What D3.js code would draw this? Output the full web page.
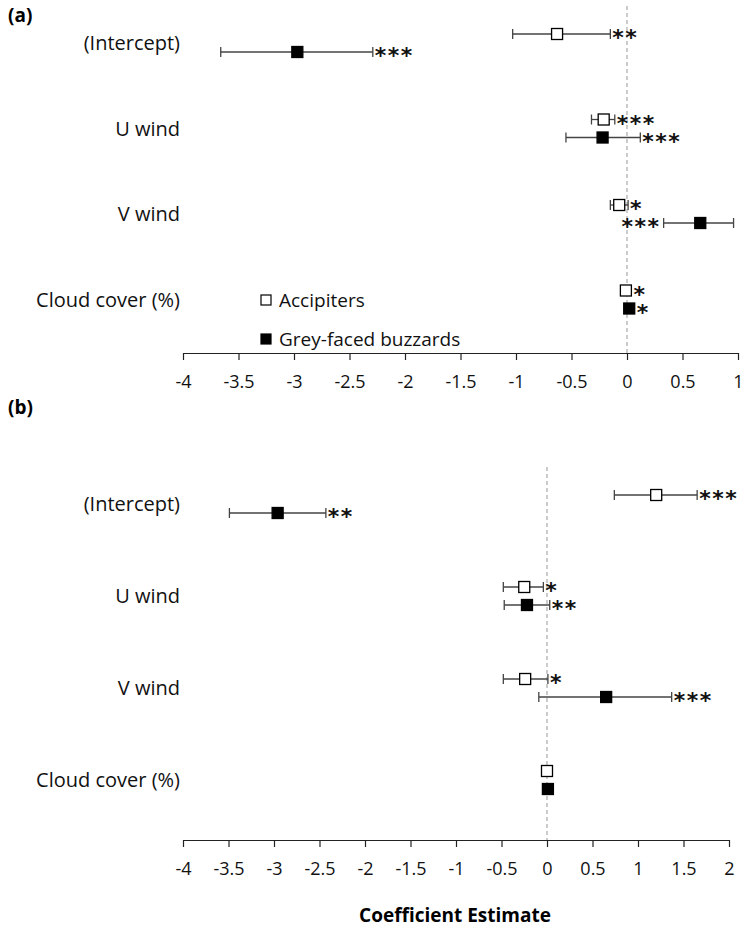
<!DOCTYPE html>
<html><head><meta charset="utf-8">
<script src="https://cdn.jsdelivr.net/npm/d3@7"></script>
<style>body{margin:0;background:#fff}</style>
</head><body>
<svg id="chart" width="746" height="932"></svg>
<script>
const categories = ["(Intercept)", "U wind", "V wind", "Cloud cover (%)"];
const series = ["Accipiters", "Grey-faced buzzards"];

// panel (a)
const aAccEst = [-0.63, -0.21, -0.07, -0.01];
const aAccLo = [-1.03, -0.32, -0.15, -0.01];
const aAccHi = [-0.15, -0.11, 0.01, -0.01];
const aAccSig = ["**", "***", "*", "*"];
const aGfbEst = [-2.97, -0.22, 0.66, 0.02];
const aGfbLo = [-3.66, -0.55, 0.33, 0.02];
const aGfbHi = [-2.29, 0.12, 0.96, 0.02];
const aGfbSig = ["***", "***", "***", "*"];
const aGfbSigLeft = [false, false, true, false];
const aTicks = [-4, -3.5, -3, -2.5, -2, -1.5, -1, -0.5, 0, 0.5, 1];

// panel (b)
const bAccEst = [1.20, -0.25, -0.24, 0.0];
const bAccLo = [0.74, -0.48, -0.48, 0.0];
const bAccHi = [1.65, -0.04, 0.01, 0.0];
const bAccSig = ["***", "*", "*", ""];
const bGfbEst = [-2.96, -0.22, 0.65, 0.01];
const bGfbLo = [-3.49, -0.47, -0.09, 0.01];
const bGfbHi = [-2.43, 0.03, 1.37, 0.01];
const bGfbSig = ["**", "**", "***", ""];
const bTicks = [-4, -3.5, -3, -2.5, -2, -1.5, -1, -0.5, 0, 0.5, 1, 1.5, 2];

const font = "Open Sans, Liberation Sans, sans-serif";
const svg = d3.select("#chart");

function panel(cfg) {
  const x = d3.scaleLinear().domain(cfg.domain).range([183, cfg.right]);
  const y = d3.scaleBand().domain(categories).range([cfg.top, cfg.top + 4 * cfg.step]);
  const g = svg.append("g");

  g.append("line").attr("x1", x(0)).attr("x2", x(0))
    .attr("y1", cfg.top - 28).attr("y2", cfg.axisY)
    .attr("stroke", "#aaa").attr("stroke-dasharray", "4,3").attr("stroke-width", 1.2);

  const ax = g.append("g").attr("transform", `translate(0,${cfg.axisY})`)
    .call(d3.axisBottom(x).tickValues(cfg.ticks).tickSize(7).tickSizeOuter(0).tickFormat(d => String(d)));
  ax.select(".domain").attr("stroke", "#222").attr("stroke-width", 1.2);
  ax.selectAll(".tick line").attr("stroke", "#222").attr("stroke-width", 1.2);
  ax.selectAll("text").attr("font-family", font).attr("font-size", 18).attr("fill", "#111").attr("y", 22);

  g.selectAll(".cat").data(categories).join("text")
    .attr("x", 180).attr("y", d => y(d) + 16)
    .attr("text-anchor", "end").attr("font-family", font).attr("font-size", 20).attr("fill", "#111")
    .text(d => d);

  cfg.rows.forEach((r, si) => {
    categories.forEach((c, i) => {
      const yy = y(c) + (si === 0 ? 0 : 18);
      const lo = x(r.lo[i]), hi = x(r.hi[i]), cx = x(r.est[i]);
      if (hi - lo > 1) {
        g.append("line").attr("x1", lo).attr("x2", hi).attr("y1", yy).attr("y2", yy).attr("stroke", "#444").attr("stroke-width", 1.3);
        [lo, hi].forEach(v => g.append("line").attr("x1", v).attr("x2", v).attr("y1", yy - 5).attr("y2", yy + 5).attr("stroke", "#444").attr("stroke-width", 1.3));
      }
      g.append("rect").attr("x", cx - 5.5).attr("y", yy - 5.5).attr("width", 11).attr("height", 11)
        .attr("fill", si === 0 ? "#fff" : "#000").attr("stroke", "#000").attr("stroke-width", 1.3);
      const left = r.left && r.left[i];
      const edge = left ? lo - 3 : Math.max(hi, cx + 5.5) + 2;
      g.append("text").attr("x", edge).attr("y", yy + 11)
        .attr("text-anchor", left ? "end" : "start").attr("font-family", "DejaVu Sans, sans-serif")
        .attr("font-weight", "bold").attr("font-size", 22).attr("letter-spacing", 1.5)
        .attr("fill", "#111").text(r.sig[i]);
    });
  });

  svg.append("text").attr("x", 8).attr("y", cfg.labelY).attr("font-family", font)
    .attr("font-weight", "bold").attr("font-size", 19).text(cfg.label);
  return x;
}

panel({
  domain: [-4, 1], right: 738, top: 34, step: 85.5, axisY: 353, ticks: aTicks, label: "(a)", labelY: 22,
  rows: [
    {est: aAccEst, lo: aAccLo, hi: aAccHi, sig: aAccSig},
    {est: aGfbEst, lo: aGfbLo, hi: aGfbHi, sig: aGfbSig, left: aGfbSigLeft}
  ]
});
panel({
  domain: [-4, 2], right: 729, top: 495, step: 92, axisY: 840, ticks: bTicks, label: "(b)", labelY: 414,
  rows: [
    {est: bAccEst, lo: bAccLo, hi: bAccHi, sig: bAccSig},
    {est: bGfbEst, lo: bGfbLo, hi: bGfbHi, sig: bGfbSig}
  ]
});

// legend
series.forEach((s, i) => {
  const ly = 300 + i * 39;
  svg.append("rect").attr("x", 261).attr("y", ly - 5).attr("width", 10).attr("height", 10)
    .attr("fill", i === 0 ? "#fff" : "#000").attr("stroke", "#000").attr("stroke-width", 1.2);
  svg.append("text").attr("x", 279).attr("y", ly + 7).attr("font-family", font)
    .attr("font-size", 19).attr("fill", "#111").text(s);
});

svg.append("text").attr("x", 455).attr("y", 922).attr("text-anchor", "middle")
  .attr("font-family", font).attr("font-weight", "bold").attr("font-size", 19).text("Coefficient Estimate");
</script>
</body></html>
